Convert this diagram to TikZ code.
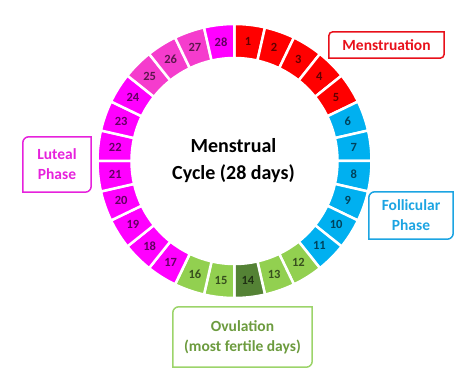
\documentclass[tikz,border=0pt]{standalone}
\usepackage{fontspec}
\setmainfont{Carlito}
\usetikzlibrary{positioning}

\definecolor{mensred}{HTML}{FF0000}
\definecolor{follblue}{HTML}{00B0F0}
\definecolor{ovulgreen}{HTML}{92D050}
\definecolor{peakgreen}{HTML}{548235}
\definecolor{lutmag}{HTML}{FF00FF}
\definecolor{lutpink}{HTML}{F53CCD}
\definecolor{menstext}{HTML}{E8101A}
\definecolor{folltext}{HTML}{1CA4E2}
\definecolor{ovultext}{HTML}{6C9B3E}
\definecolor{ovulline}{HTML}{9CD46A}
\definecolor{luttext}{HTML}{E622DC}

\begin{document}
\begin{tikzpicture}[x=1pt,y=1pt,
  seg/.style={draw=white,line width=2.5pt},
  day/.style={font=\fontsize{12.5}{13}\selectfont\bfseries,text=black,text opacity=0.62},
  phase/.style={align=center,inner sep=0pt,font=\fontsize{15.5}{20}\selectfont\bfseries}]
\useasboundingbox (-234.5,-226) rectangle (239.5,161);

% ring of days
\foreach \i/\c in {1/mensred,2/mensred,3/mensred,4/mensred,5/mensred,
  6/follblue,7/follblue,8/follblue,9/follblue,10/follblue,11/follblue,
  12/ovulgreen,13/ovulgreen,14/peakgreen,15/ovulgreen,16/ovulgreen,
  17/lutmag,18/lutmag,19/lutmag,20/lutmag,21/lutmag,22/lutmag,23/lutmag,24/lutmag,
  25/lutpink,26/lutpink,27/lutpink,28/lutmag}
{
  \pgfmathsetmacro\a{90-(\i-1)*360/28}
  \pgfmathsetmacro\b{90-\i*360/28}
  \pgfmathsetmacro\m{90-(\i-0.5)*360/28}
  \filldraw[seg,fill=\c] (\a:103) -- (\a:137) arc[start angle=\a,end angle=\b,radius=137pt]
    -- (\b:103) arc[start angle=\b,end angle=\a,radius=103pt] -- cycle;
  \node[day] (d\i) at (\m:120) {\i};
}

\node[font=\fontsize{20}{27}\selectfont\bfseries,align=center] (cyc) at (-1,0) {Menstrual\\Cycle (28 days)};

% phase labels
\node[phase,text=menstext,minimum width=115pt,minimum height=26pt] (mens) at (152,116) {Menstruation};
\node[phase,text=folltext,minimum width=84pt,minimum height=47pt] (foll) at (176.5,-54.5) {Follicular\\Phase};
\node[phase,text=ovultext,minimum width=139pt,minimum height=60pt] (ovul) at (8,-176) {Ovulation\\(most fertile days)};
\node[phase,text=luttext,minimum width=68pt,minimum height=55pt] (lut) at (-177.5,-3.5) {Luteal\\Phase};

\foreach \n/\c/\r in {mens/menstext/4,foll/folltext/6,ovul/ovulline/6,lut/luttext/6}
  \draw[\c,line width=1.5pt] ([xshift=\r pt]\n.north west) -- (\n.north east)
    -- ([yshift=\r pt]\n.south east) arc[start angle=0,end angle=-90,radius=\r pt]
    -- (\n.south west) -- ([yshift=-\r pt]\n.north west)
    arc[start angle=180,end angle=90,radius=\r pt] -- cycle;
\end{tikzpicture}
\end{document}
